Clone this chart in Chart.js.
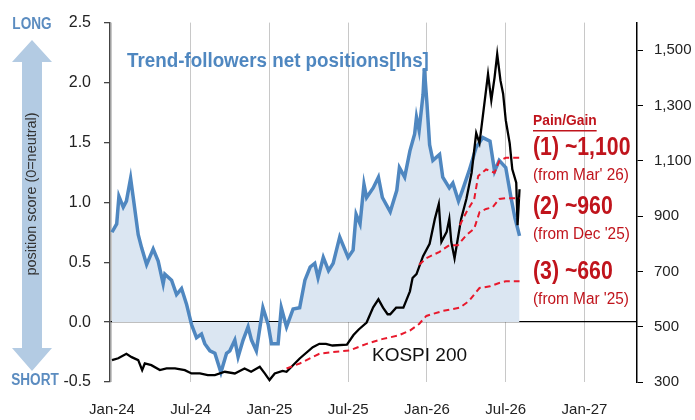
<!DOCTYPE html>
<html>
<head>
<meta charset="utf-8">
<script src="https://cdn.jsdelivr.net/npm/chart.js@4.4.1/dist/chart.umd.min.js"></script>
<style>
  html, body { margin: 0; padding: 0; background: #fff; }
  #wrap { width: 695px; height: 420px; position: relative; }
</style>
</head>
<body>
<div id="wrap"><canvas id="trendChart"></canvas></div>
<script>
// x values are months counted from Jan-24 (0 = Jan-24, 6 = Jul-24 ...)
var monthLabels = { 0: "Jan-24", 6: "Jul-24", 12: "Jan-25", 18: "Jul-25", 24: "Jan-26", 30: "Jul-26", 36: "Jan-27" };
var monthTicks = [0, 6, 12, 18, 24, 30, 36];
var rightTicks = [300, 500, 700, 900, 1100, 1300, 1500];

// trend-followers net position score (lhs)
var trendMonths = [0, 0.36, 0.53, 0.86, 1.1, 1.42, 1.62, 2.0, 2.26, 2.64, 3.14, 3.52, 3.9, 4.03, 4.54, 4.92, 5.3, 5.68,
    6.06, 6.44, 6.82, 7.07, 7.46, 7.84, 8.3, 8.73, 8.98, 9.36, 9.61, 9.99, 10.37, 10.63, 11.0, 11.5, 11.9, 12.15, 12.66,
    12.9, 13.3, 13.8, 14.3, 14.7, 15.1, 15.45, 15.7, 16.1, 16.5, 16.85, 17.35, 17.99, 18.37, 18.6, 18.9, 19.2, 19.4,
    19.9, 20.3, 20.6, 21.2, 21.7, 21.9, 22.3, 22.7, 23.06, 23.2, 23.4, 23.7, 23.8, 24.0, 24.2, 24.45, 24.96, 25.2,
    25.7, 25.97, 26.4, 26.7, 27.2, 27.75, 28.25, 28.8, 29.15, 29.5, 30.0, 30.4, 30.7, 31.05];
var trendScore = [0.75, 0.82, 1.05, 0.96, 1.01, 1.2, 1.04, 0.73, 0.62, 0.48, 0.61, 0.51, 0.32, 0.40, 0.35, 0.23, 0.28, 0.15,
    -0.02, -0.13, -0.10, -0.18, -0.24, -0.26, -0.42, -0.26, -0.24, -0.15, -0.29, -0.15, -0.04, -0.15, -0.24, 0.12, -0.02, -0.18, -0.18,
    0.12, -0.04, 0.11, 0.12, 0.35, 0.46, 0.49, 0.37, 0.54, 0.43, 0.49, 0.71, 0.54, 0.60, 0.90, 0.82, 1.15, 1.04,
    1.12, 1.21, 1.04, 0.92, 1.10, 1.29, 1.21, 1.43, 1.57, 1.71, 1.60, 1.90, 2.12, 1.82, 1.48, 1.35, 1.40, 1.21,
    1.12, 1.16, 1.01, 1.10, 1.26, 1.46, 1.54, 1.51, 1.26, 1.35, 1.29, 1.04, 0.87, 0.72];

// KOSPI 200 (rhs)
var kospiMonths = [0, 0.48, 1.1, 1.5, 2.0, 2.3, 2.5, 3.0, 3.65, 4.16, 4.8, 5.55, 6.06, 6.7, 7.3, 7.84, 8.6, 9.36, 10.1,
    10.6, 11.26, 11.64, 12.0, 12.4, 13.0, 13.3, 14.3, 15.3, 15.8, 16.3, 16.8, 17.9, 18.4, 18.8, 19.4, 19.9, 20.3, 20.65,
    21.0, 21.2, 21.65, 22.2, 22.7, 22.9, 23.2, 23.7, 24.2, 24.6, 24.9, 25.1, 25.5, 25.7, 25.85, 26.1, 26.35, 26.6, 27.0,
    27.4, 27.75, 28.0, 28.25, 28.65, 28.9, 29.15, 29.35, 29.6, 29.8, 30.0, 30.3, 30.5, 30.8, 30.9, 31.05];
var kospiLevel = [379, 386, 402, 390, 379, 343, 367, 361, 343, 349, 349, 343, 331, 331, 325, 325, 337, 331, 349,
    337, 355, 331, 307, 331, 340, 337, 385, 426, 438, 438, 432, 435, 470, 490, 515, 570, 599, 569,
    545, 545, 569, 569, 628, 676, 690, 755, 800, 890, 944, 807, 843, 890, 807, 747, 819, 890, 962,
    1057, 1200, 1164, 1260, 1414, 1319, 1402, 1486, 1390, 1343, 1247, 1164, 1069, 1021, 867, 997];

// pain/gain levels (rhs)
var pain1Months = [26.5, 27.0, 27.6, 27.9, 28.5, 29.15, 29.5, 30.0, 31.05];
var pain1Level = [867, 914, 962, 1045, 1069, 1057, 1099, 1111, 1111];
var pain2Months = [23.4, 23.95, 24.96, 25.7, 26.35, 27.0, 27.6, 28.0, 28.5, 29.0, 29.5, 30.0, 31.05];
var pain2Level = [724, 748, 771, 795, 795, 831, 855, 914, 926, 932, 962, 965, 965];
var pain3Months = [13.3, 14.3, 15.8, 16.8, 18.1, 19.4, 20.65, 21.8, 22.7, 23.4, 23.95, 25.2, 26.5, 27.2, 28.0, 28.8, 29.5, 30.0, 31.05];
var pain3Level = [349, 367, 402, 408, 414, 438, 456, 468, 486, 510, 539, 557, 569, 593, 640, 646, 658, 664, 664];

function toPoints(xs, ys) {
    return xs.map(function (x, i) { return { x: x, y: ys[i] }; });
}

var SANS = "'Liberation Sans', Arial, sans-serif";
var BLUE = "#4f87c0";
var RED_TEXT = "#c0141c";

// no Arial Narrow here, so squeeze the text a bit
function narrowText(ctx, text, x, y, sx) {
    ctx.save();
    ctx.translate(x, y);
    ctx.scale(sx, 1);
    ctx.fillText(text, 0, 0);
    ctx.restore();
}

// text, arrow and notes around the plot
var notesPlugin = {
    id: 'notes',
    afterDraw: function (chart) {
        var ctx = chart.ctx;
        ctx.save();

        // double headed arrow on the left
        var cx = 32;
        ctx.fillStyle = "#b3cbe3";
        ctx.beginPath();
        ctx.moveTo(cx, 40);
        ctx.lineTo(cx + 20, 62);
        ctx.lineTo(cx + 10, 62);
        ctx.lineTo(cx + 10, 348);
        ctx.lineTo(cx + 20, 348);
        ctx.lineTo(cx, 371);
        ctx.lineTo(cx - 20, 348);
        ctx.lineTo(cx - 10, 348);
        ctx.lineTo(cx - 10, 62);
        ctx.lineTo(cx - 20, 62);
        ctx.closePath();
        ctx.fill();

        ctx.fillStyle = "#5b8cc0";
        ctx.font = "bold 16px " + SANS;
        ctx.textAlign = "center";
        ctx.textBaseline = "middle";
        narrowText(ctx, "LONG", cx, 25, 0.85);
        narrowText(ctx, "SHORT", cx + 3, 381, 0.85);

        ctx.save();
        ctx.translate(cx, 194);
        ctx.rotate(-Math.PI / 2);
        ctx.fillStyle = "#333";
        ctx.font = "15px " + SANS;
        narrowText(ctx, "position score (0=neutral)", 0, 0, 0.96);
        ctx.restore();

        // series captions
        ctx.textAlign = "left";
        ctx.fillStyle = BLUE;
        ctx.font = "bold 20px " + SANS;
        narrowText(ctx, "Trend-followers net positions[lhs]", 127, 61, 0.94);

        ctx.fillStyle = "#111";
        ctx.font = "19px " + SANS;
        ctx.fillText("KOSPI 200", 372, 356);

        // pain / gain notes
        var x0 = 533;
        ctx.fillStyle = RED_TEXT;
        ctx.font = "bold 15px " + SANS;
        narrowText(ctx, "Pain/Gain", x0, 121, 0.92);
        var w = ctx.measureText("Pain/Gain").width * 0.92;
        ctx.fillRect(x0, 130, w, 1.5);

        var notes = [["(1) ~1,100", "(from Mar' 26)", 148, 176],
                     ["(2) ~960", "(from Dec '25)", 207, 235],
                     ["(3) ~660", "(from Mar '25)", 272, 300]];
        notes.forEach(function (n) {
            ctx.font = "bold 25px " + SANS;
            narrowText(ctx, n[0], x0, n[2], 0.85);
            ctx.font = "16px " + SANS;
            narrowText(ctx, n[1], x0, n[3], 0.96);
        });

        ctx.restore();
    }
};

var ctx = document.getElementById('trendChart').getContext('2d');
var trendChart = new Chart(ctx, {
    type: 'line',
    data: {
        datasets: [
            {
                label: "Pain (1)",
                data: toPoints(pain1Months, pain1Level),
                yAxisID: 'y2',
                borderColor: "#e8192c",
                borderWidth: 2,
                borderDash: [6, 4],
                pointRadius: 0,
                fill: false,
                order: 1
            },
            {
                label: "Pain (2)",
                data: toPoints(pain2Months, pain2Level),
                yAxisID: 'y2',
                borderColor: "#e8192c",
                borderWidth: 2,
                borderDash: [6, 4],
                pointRadius: 0,
                fill: false,
                order: 1
            },
            {
                label: "Pain (3)",
                data: toPoints(pain3Months, pain3Level),
                yAxisID: 'y2',
                borderColor: "#e8192c",
                borderWidth: 2,
                borderDash: [6, 4],
                pointRadius: 0,
                fill: false,
                order: 1
            },
            {
                label: "KOSPI 200",
                data: toPoints(kospiMonths, kospiLevel),
                yAxisID: 'y2',
                borderColor: "#000",
                borderWidth: 2.3,
                pointRadius: 0,
                fill: false,
                order: 2
            },
            {
                label: "Trend-followers net positions",
                data: toPoints(trendMonths, trendScore),
                yAxisID: 'y',
                borderColor: BLUE,
                borderWidth: 3.5,
                backgroundColor: "#dbe6f2",
                pointRadius: 0,
                fill: 'origin',
                order: 3
            }
        ]
    },
    options: {
        responsive: true,
        maintainAspectRatio: false,
        animation: false,
        layout: { padding: { top: 18, left: 0, right: 0, bottom: 0 } },
        plugins: {
            legend: { display: false },
            tooltip: { enabled: false },
            filler: { drawTime: 'beforeDatasetsDraw' }
        },
        elements: { line: { tension: 0 } },
        scales: {
            x: {
                type: 'linear',
                min: -0.15,
                max: 40,
                afterBuildTicks: function (scale) {
                    scale.ticks = monthTicks.map(function (v) { return { value: v }; });
                },
                afterFit: function (scale) { scale.height = 38; },
                border: { display: false },
                grid: { color: "#c8c8c8", lineWidth: 1, tickLength: 0 },
                ticks: {
                    padding: 19,
                    color: "#222",
                    font: { family: SANS, size: 15 },
                    maxRotation: 0,
                    callback: function (v) { return monthLabels[v] || ""; }
                }
            },
            y: {
                position: 'left',
                min: -0.5,
                max: 2.5,
                afterFit: function (scale) { scale.width = 110; },
                border: { display: true, color: "#444", width: 1.5 },
                grid: {
                    drawOnChartArea: true,
                    tickLength: 6,
                    tickColor: "#444",
                    lineWidth: 1.3,
                    color: function (c) { return c.tick && c.tick.value === 0 ? "#000" : "rgba(0,0,0,0)"; }
                },
                ticks: {
                    stepSize: 0.5,
                    padding: 13,
                    color: "#222",
                    font: { family: SANS, size: 16 },
                    callback: function (v) { return v.toFixed(1); }
                }
            },
            y2: {
                position: 'right',
                min: 300,
                max: 1600,
                afterBuildTicks: function (scale) {
                    scale.ticks = rightTicks.map(function (v) { return { value: v }; });
                },
                afterFit: function (scale) { scale.width = 58; },
                border: { display: true, color: "#000", width: 1.5 },
                grid: { drawOnChartArea: false, tickLength: 6, tickColor: "#000" },
                ticks: {
                    padding: 11,
                    color: "#222",
                    font: { family: SANS, size: 15 },
                    callback: function (v) { return v.toLocaleString('en-US'); }
                }
            }
        }
    },
    plugins: [notesPlugin]
});
</script>
</body>
</html>
